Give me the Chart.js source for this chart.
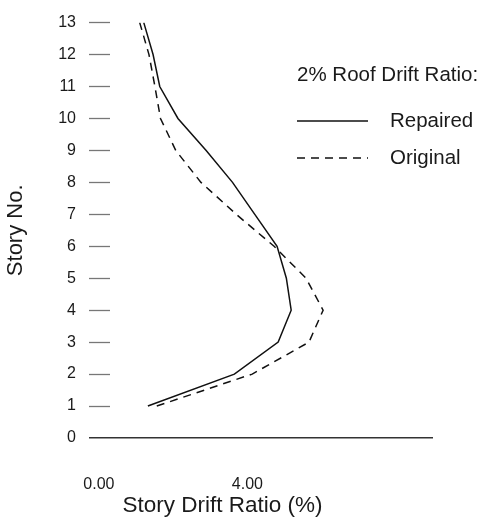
<!DOCTYPE html>
<html>
<head>
<meta charset="utf-8">
<script src="https://cdn.jsdelivr.net/npm/chart.js@4/dist/chart.umd.min.js"></script>
<style>
  html, body { margin: 0; padding: 0; background: #fff; }
  #wrap { width: 488px; height: 521px; }
</style>
</head>
<body>
<div id="wrap"><canvas id="grafico"></canvas></div>
<script>
const stories = [1, 2, 3, 4, 5, 6, 7, 8, 9, 10, 11, 12, 13];
const repaired = [1.32, 3.65, 4.83, 5.18, 5.05, 4.80, 4.20, 3.60, 2.89, 2.13, 1.64, 1.46, 1.21];
const original = [1.56, 4.13, 5.66, 6.04, 5.58, 4.72, 3.70, 2.75, 2.07, 1.66, 1.51, 1.35, 1.10];
const seriesLabels = ["Repaired", "Original"];
const driftTicks = [0, 4];
const legendTitle = "2% Roof Drift Ratio:";

const fonte = "'Liberation Sans', Arial, sans-serif";

function pontos(valores) {
    return valores.map((v, i) => ({ x: v, y: stories[i] }));
}

function ehZero(c) {
    return c.tick && c.tick.value === 0;
}

// legenda desenhada dentro da area do grafico, como no original
const legendaInterna = {
    id: "legendaInterna",
    afterDraw(chart) {
        const ctx = chart.ctx;
        ctx.save();
        ctx.fillStyle = "#1a1a1a";
        ctx.font = "20.5px " + fonte;
        ctx.textBaseline = "middle";
        ctx.fillText(legendTitle, 297, 75);
        chart.data.datasets.forEach((ds, i) => {
            const y = 121 + i * 37;
            ctx.beginPath();
            ctx.setLineDash(ds.borderDash || []);
            ctx.strokeStyle = ds.borderColor;
            ctx.lineWidth = ds.borderWidth;
            ctx.moveTo(297, y);
            ctx.lineTo(368, y);
            ctx.stroke();
            ctx.setLineDash([]);
            ctx.fillText(ds.label, 390, y);
        });
        ctx.restore();
    }
};

new Chart(document.getElementById("grafico"), {
    type: "line",
    data: {
        datasets: [
            {
                label: seriesLabels[0],
                data: pontos(repaired),
                borderColor: "#111",
                borderWidth: 1.5,
                pointRadius: 0,
                fill: false,
                tension: 0
            },
            {
                label: seriesLabels[1],
                data: pontos(original),
                borderColor: "#111",
                borderWidth: 1.5,
                borderDash: [8, 6],
                pointRadius: 0,
                fill: false,
                tension: 0
            }
        ]
    },
    options: {
        responsive: true,
        maintainAspectRatio: false,
        animation: false,
        layout: { padding: { top: 16, right: 55, left: 0, bottom: 0 } },
        plugins: {
            legend: { display: false },
            tooltip: { enabled: false }
        },
        scales: {
            x: {
                type: "linear",
                min: 0.3,
                max: 9.0,
                afterBuildTicks: scale => {
                    scale.ticks = driftTicks.map(v => ({ value: v }));
                },
                afterFit: scale => { scale.height = 83; },
                ticks: {
                    callback: v => Number(v).toFixed(2),
                    padding: 37,
                    autoSkip: false,
                    maxRotation: 0,
                    color: "#1a1a1a",
                    font: { family: fonte, size: 16 }
                },
                grid: { display: false, drawTicks: false },
                border: { display: false },
                title: {
                    display: true,
                    align: "start",
                    text: "  Story Drift Ratio (%)",
                    color: "#1a1a1a",
                    font: { family: fonte, size: 22.5 },
                    padding: { top: 0, bottom: 2 }
                }
            },
            y: {
                type: "linear",
                min: 0,
                max: 13,
                afterFit: scale => { scale.width = 110; },
                ticks: {
                    stepSize: 1,
                    padding: 13,
                    color: "#1a1a1a",
                    font: { family: fonte, size: 16 }
                },
                grid: {
                    drawOnChartArea: true,
                    color: c => ehZero(c) ? "#333" : "rgba(0,0,0,0)",
                    lineWidth: c => ehZero(c) ? 1.5 : 1,
                    tickLength: 21,
                    tickColor: c => ehZero(c) ? "#333" : "#777",
                    tickWidth: c => ehZero(c) ? 1.5 : 1.3
                },
                border: { display: false },
                title: {
                    display: true,
                    text: "Story No.",
                    color: "#1a1a1a",
                    font: { family: fonte, size: 22 },
                    padding: { top: 3, bottom: 0 }
                }
            }
        }
    },
    plugins: [legendaInterna]
});
</script>
</body>
</html>
